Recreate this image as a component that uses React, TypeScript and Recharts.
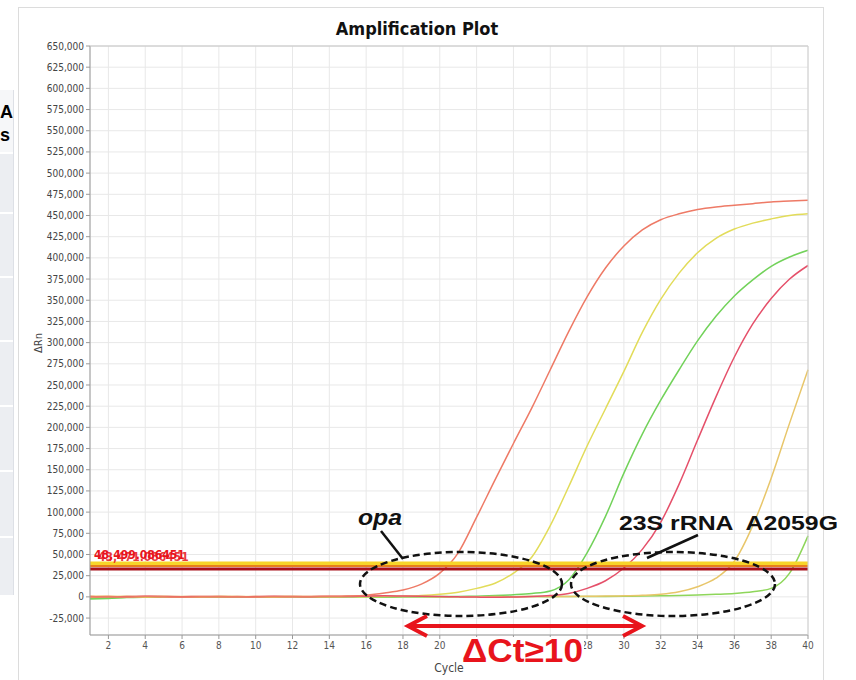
import React from "react";
import {
  LineChart,
  Line,
  XAxis,
  YAxis,
  CartesianGrid,
  ReferenceLine,
} from "recharts";

// cycle numbers and delta-Rn readings per well
const cycles = [
  1, 2, 3, 4, 5, 6, 7, 8, 9, 10, 11, 12, 13, 14, 15, 16, 17, 18, 19, 20, 21,
  22, 23, 24, 25, 26, 27, 28, 29, 30, 31, 32, 33, 34, 35, 36, 37, 38, 39, 40,
];

const opaSalmon = [
  0, 300, -200, 400, 100, -300, 200, 0, 300, -100, 100, 200, 400, 600, 1000,
  2000, 4500, 8000, 15000, 28000, 52000, 94000, 138000, 181000, 223000, 268000,
  313000, 354000, 388000, 414000, 433000, 445000, 452000, 457000, 460000,
  462000, 464000, 466000, 467000, 468000,
];
const opaYellow = [
  -400, 100, 300, -200, 0, 200, -100, 100, 0, 300, -100, 0, 200, 100, 300, 200,
  400, 800, 1500, 3000, 5500, 10000, 16000, 28000, 47000, 84000, 130000, 178000,
  222000, 266000, 312000, 351000, 382000, 406000, 423000, 434000, 441000,
  446000, 450000, 452000,
];
const mutGreen = [
  -2500, -1800, -800, -300, 0, 200, -100, 100, 0, -200, 100, 0, 200, -100, 0,
  100, -200, 0, 200, 300, 500, 800, 1500, 2500, 4000, 7000, 20000, 52000, 95000,
  146000, 192000, 232000, 268000, 302000, 331000, 355000, 374000, 390000,
  401000, 409000,
];
const mutRed = [
  500, 0, 300, 600, 400, 200, 500, 300, 100, 400, 600, 300, 200, 500, 300, 800,
  1200, 900, 600, 300, 0, -300, -500, -200, 300, 1500, 4000, 10000, 19000,
  34000, 56000, 88000, 133000, 185000, 236000, 283000, 322000, 352000, 375000,
  391000,
];
const mutOrange = [
  800, 600, 300, 500, 700, 400, 300, 600, 400, 200, 500, 700, 400, 300, 600,
  900, 700, 500, 300, 200, 0, 100, 300, 200, 400, 300, 500, 700, 900, 1200,
  1800, 3000, 6000, 12000, 22000, 42000, 84000, 140000, 205000, 268000,
];
const mutGreenLate = [
  -1500, -1200, -600, -200, 0, -100, 100, -200, 0, 100, -100, 0, -200, 0, 100,
  0, -100, 100, 0, -100, 100, 200, 0, 100, 300, 200, 400, 300, 500, 700, 900,
  1200, 1600, 2200, 3000, 4000, 6000, 10000, 28000, 72000,
];

const xTicks = [
  2, 4, 6, 8, 10, 12, 14, 16, 18, 20, 22, 24, 26, 28, 30, 32, 34, 36, 38, 40,
];
const yTicks = [
  -25000, 0, 25000, 50000, 75000, 100000, 125000, 150000, 175000, 200000,
  225000, 250000, 275000, 300000, 325000, 350000, 375000, 400000, 425000,
  450000, 475000, 500000, 525000, 550000, 575000, 600000, 625000, 650000,
];

const thresholdLabels = ["48,499.086451", "43,471.086451"];

const data = cycles.map((c, i) => ({
  cycle: c,
  opaSalmon: opaSalmon[i],
  opaYellow: opaYellow[i],
  mutGreen: mutGreen[i],
  mutRed: mutRed[i],
  mutOrange: mutOrange[i],
  mutGreenLate: mutGreenLate[i],
}));

const FONT = "'DejaVu Sans Condensed', 'DejaVu Sans', sans-serif";
const ARIAL = "Arial, 'Liberation Sans', sans-serif";
const tickStyle = { fontSize: 10, fill: "#555", fontFamily: FONT };

const fmt = (v: number) => v.toLocaleString("en-US");

export default function App() {
  return (
    <div
      style={{
        position: "absolute",
        left: 0,
        top: 0,
        width: 856,
        height: 680,
        overflow: "hidden",
        background: "#fff",
      }}
    >
      {/* cut-off table on the left */}
      <div
        style={{
          position: "absolute",
          left: 0,
          top: 90,
          width: 13,
          height: 505,
          background: "#eceef2",
          borderRight: "1px solid #dde0e6",
          overflow: "hidden",
        }}
      >
        <div
          style={{
            height: 64,
            background: "#f6f7f9",
            borderBottom: "2px solid #fff",
            fontFamily: ARIAL,
            fontWeight: "bold",
            fontSize: 18,
            lineHeight: "23px",
            textAlign: "right",
            paddingTop: 11,
            paddingRight: 3,
            boxSizing: "border-box",
          }}
        >
          A<br />s
        </div>
        {[58, 62, 62, 63, 63, 64].map((h, i) => (
          <div key={i} style={{ height: h, borderBottom: "2px solid #fff" }} />
        ))}
      </div>

      <div
        style={{
          position: "absolute",
          left: 18,
          top: 7,
          width: 804,
          height: 690,
          border: "1px solid #dcdcdc",
        }}
      />

      <div style={{ position: "absolute", left: 0, top: 0 }}>
        <LineChart
          width={856}
          height={680}
          data={data}
          margin={{ top: 46, right: 48, bottom: 3, left: 30 }}
        >
          <CartesianGrid stroke="#e8e8e8" />
          <XAxis
            dataKey="cycle"
            type="number"
            domain={[1, 40]}
            ticks={xTicks}
            interval={0}
            height={42}
            tick={tickStyle}
            tickSize={4}
            tickMargin={3}
            stroke="#999"
            label={{
              value: "Cycle",
              position: "insideBottom",
              offset: 5,
              fill: "#444",
              fontSize: 12,
              fontFamily: FONT,
            }}
          />
          <YAxis
            type="number"
            domain={[-45000, 650000]}
            ticks={yTicks}
            interval={0}
            width={60}
            tick={{ ...tickStyle, fill: "#444" }}
            tickSize={4}
            tickMargin={2}
            tickFormatter={fmt}
            stroke="#999"
            allowDataOverflow
          />
          <Line dataKey="mutGreenLate" stroke="#8ed65a" strokeWidth={1.5} dot={false} type="monotone" isAnimationActive={false} />
          <Line dataKey="mutGreen" stroke="#72d25a" strokeWidth={1.5} dot={false} type="monotone" isAnimationActive={false} />
          <Line dataKey="opaYellow" stroke="#e2dc5a" strokeWidth={1.5} dot={false} type="monotone" isAnimationActive={false} />
          <Line dataKey="mutOrange" stroke="#e8c66a" strokeWidth={1.5} dot={false} type="monotone" isAnimationActive={false} />
          <Line dataKey="mutRed" stroke="#e5506a" strokeWidth={1.5} dot={false} type="monotone" isAnimationActive={false} />
          <Line dataKey="opaSalmon" stroke="#ee7a66" strokeWidth={1.5} dot={false} type="monotone" isAnimationActive={false} />
          <ReferenceLine
            y={39500}
            stroke="#f7d52a"
            strokeWidth={4}
            label={{
              value: thresholdLabels[0],
              position: "insideBottomLeft",
              offset: 4,
              fill: "#e8141c",
              fontSize: 12,
              fontWeight: "bold",
              fontFamily: FONT,
            }}
          />
          <ReferenceLine y={36500} stroke="#e8801c" strokeWidth={2} />
          <ReferenceLine
            y={33000}
            stroke="#a8101a"
            strokeWidth={3}
            label={{
              value: thresholdLabels[1],
              position: "insideBottomLeft",
              offset: 8,
              fill: "#e8141c",
              fontSize: 12,
              fontWeight: "bold",
              fontFamily: FONT,
              opacity: 0.85,
            }}
          />
        </LineChart>
      </div>

      {/* title, frame and hand-drawn annotations */}
      <svg
        width={856}
        height={680}
        style={{ position: "absolute", left: 0, top: 0, pointerEvents: "none" }}
      >
        <text
          x={417}
          y={35}
          textAnchor="middle"
          fontFamily={FONT}
          fontWeight="bold"
          fontSize={18}
          fill="#111"
        >
          Amplification Plot
        </text>
        <line x1={90} y1={46} x2={808} y2={46} stroke="#c4c4c4" />
        <line x1={808} y1={46} x2={808} y2={635} stroke="#d0d0d0" />
        <text
          transform="translate(42,343) rotate(-90)"
          textAnchor="middle"
          fontFamily={FONT}
          fontSize={11}
          fill="#444"
        >
          ΔRn
        </text>

        <g fill="none" stroke="#111" strokeWidth={2.5} strokeDasharray="7 4">
          <ellipse cx={461} cy={584} rx={101} ry={32} />
          <ellipse cx={673} cy={584} rx={102} ry={32} />
        </g>
        <line x1={381} y1={531} x2={403} y2={559} stroke="#111" strokeWidth={2.5} />
        <line x1={698} y1={535} x2={647} y2={558} stroke="#111" strokeWidth={2.5} />
        <text
          x={358}
          y={525}
          fontFamily={ARIAL}
          fontWeight="bold"
          fontStyle="italic"
          fontSize={22}
          fill="#111"
          textLength={44}
          lengthAdjust="spacingAndGlyphs"
        >
          opa
        </text>
        <text
          x={619}
          y={530}
          fontFamily={ARIAL}
          fontWeight="bold"
          fontSize={20}
          fill="#111"
          textLength={219}
          lengthAdjust="spacingAndGlyphs"
          xmlSpace="preserve"
        >
          23S rRNA  A2059G
        </text>

        <g stroke="#e8141c" strokeWidth={4} fill="none" strokeLinejoin="miter">
          <line x1={409} y1={626} x2={641} y2={626} />
          <polyline points="427,616 408,626 427,636" />
          <polyline points="623,616 642,626 623,636" />
        </g>
        {/* the big label sits on a white patch over the axis numbers */}
        <rect x={460} y={637} width={124} height={28} fill="#fff" />
        <text
          x={462}
          y={662}
          fontFamily={ARIAL}
          fontWeight="bold"
          fontSize={33}
          fill="#e8141c"
          textLength={121}
          lengthAdjust="spacingAndGlyphs"
        >
          ΔCt≥10
        </text>
      </svg>
    </div>
  );
}
